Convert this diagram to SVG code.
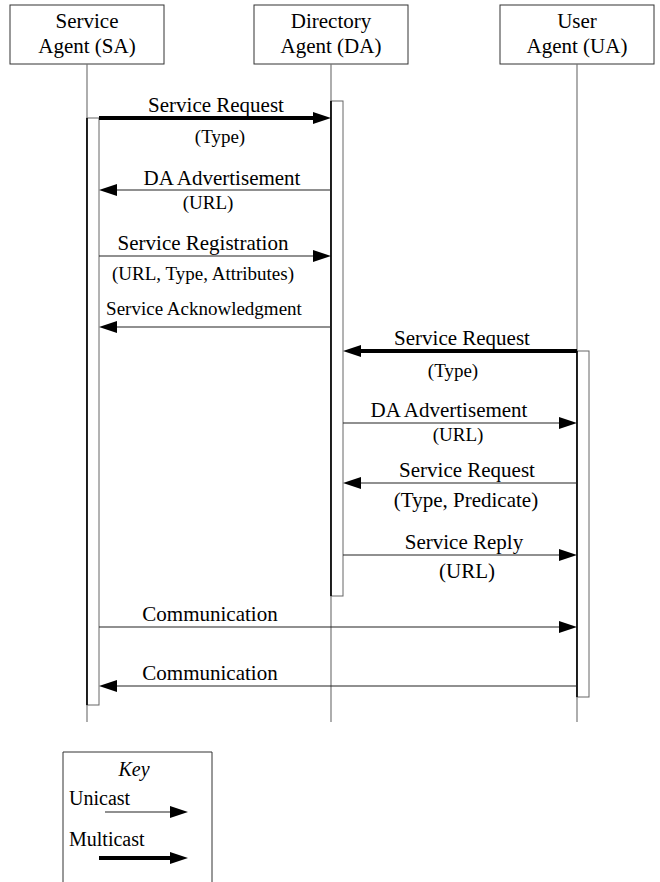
<svg xmlns="http://www.w3.org/2000/svg" width="660" height="882" viewBox="0 0 660 882">
<style>
text{font-family:"Liberation Serif","Times New Roman",serif;fill:#000}
.h{font-size:21px;text-anchor:middle}
.m{font-size:21px;text-anchor:middle}
.s{font-size:19px;text-anchor:middle}
.box{fill:#fff;stroke:#333;stroke-width:1}
.life{stroke:#777;stroke-width:1.2;fill:none}
.bar{fill:#fff;stroke:#666;stroke-width:1}
.edge{stroke:#000;stroke-width:1.6}
.uni{stroke:#222;stroke-width:1.2;fill:none}
.multi{stroke:#000;stroke-width:4;fill:none}
</style>
<defs>
<marker id="ah" markerUnits="userSpaceOnUse" markerWidth="20" markerHeight="14" refX="10" refY="6" orient="auto" viewBox="0 0 20 14">
<path d="M0,0 L18,6 L0,12 z" fill="#000"/>
</marker>
</defs>
<rect width="660" height="882" fill="#fff"/>
<g id="sa">
<rect class="box" x="10" y="5" width="154" height="59"/>
<text class="h" x="87" y="28">Service</text>
<text class="h" x="87" y="53">Agent (SA)</text>
<line class="life" x1="87" y1="64" x2="87" y2="722"/>
<rect class="bar" x="87" y="118" width="12" height="587"/>
<line class="edge" x1="87" y1="118" x2="87" y2="705"/>
</g>
<g id="da">
<rect class="box" x="254" y="5" width="154" height="59"/>
<text class="h" x="331" y="28">Directory</text>
<text class="h" x="331" y="53">Agent (DA)</text>
<line class="life" x1="331" y1="64" x2="331" y2="722"/>
<rect class="bar" x="331" y="101" width="12" height="495"/>
<line class="edge" x1="331" y1="101" x2="331" y2="596"/>
</g>
<g id="ua">
<rect class="box" x="500" y="5" width="154" height="59"/>
<text class="h" x="577" y="28">User</text>
<text class="h" x="577" y="53">Agent (UA)</text>
<line class="life" x1="577" y1="64" x2="577" y2="722"/>
<rect class="bar" x="577" y="351" width="12" height="346"/>
<line class="edge" x1="577" y1="351" x2="577" y2="697"/>
</g>
<g id="connectors">
<line class="multi" x1="99" y1="118" x2="323" y2="118" marker-end="url(#ah)"/>
<text class="m" x="216" y="112">Service Request</text>
<text class="s" x="220" y="143">(Type)</text>
<line class="uni" x1="331" y1="190" x2="107" y2="190" marker-end="url(#ah)"/>
<text class="m" x="222" y="185">DA Advertisement</text>
<text class="s" x="208" y="209">(URL)</text>
<line class="uni" x1="99" y1="256" x2="323" y2="256" marker-end="url(#ah)"/>
<text class="m" x="203" y="250">Service Registration</text>
<text class="s" x="203" y="280">(URL, Type, Attributes)</text>
<line class="uni" x1="331" y1="327" x2="107" y2="327" marker-end="url(#ah)"/>
<text class="s" x="204" y="315">Service Acknowledgment</text>
<line class="multi" x1="577" y1="351" x2="351" y2="351" marker-end="url(#ah)"/>
<text class="m" x="462" y="345">Service Request</text>
<text class="s" x="453" y="377">(Type)</text>
<line class="uni" x1="343" y1="423" x2="569" y2="423" marker-end="url(#ah)"/>
<text class="m" x="449" y="417">DA Advertisement</text>
<text class="s" x="458" y="441">(URL)</text>
<line class="uni" x1="577" y1="483" x2="351" y2="483" marker-end="url(#ah)"/>
<text class="m" x="467" y="477">Service Request</text>
<text class="m" x="466" y="507">(Type, Predicate)</text>
<line class="uni" x1="343" y1="555" x2="569" y2="555" marker-end="url(#ah)"/>
<text class="m" x="464" y="549">Service Reply</text>
<text class="m" x="467" y="578">(URL)</text>
<line class="uni" x1="99" y1="627" x2="569" y2="627" marker-end="url(#ah)"/>
<text class="m" x="210" y="621">Communication</text>
<line class="uni" x1="577" y1="686" x2="107" y2="686" marker-end="url(#ah)"/>
<text class="m" x="210" y="680">Communication</text>
</g>
<g id="key">
<path d="M63,882 L63,752 L212,752 L212,882" fill="none" stroke="#333" stroke-width="1"/>
<text x="134" y="776" style="font-size:20px;font-style:italic;text-anchor:middle">Key</text>
<text x="69" y="805" style="font-size:20px">Unicast</text>
<line class="uni" x1="105" y1="812" x2="180" y2="812" marker-end="url(#ah)"/>
<text x="69" y="846" style="font-size:20px">Multicast</text>
<line class="multi" x1="99" y1="858" x2="180" y2="858" marker-end="url(#ah)"/>
</g>
</svg>
